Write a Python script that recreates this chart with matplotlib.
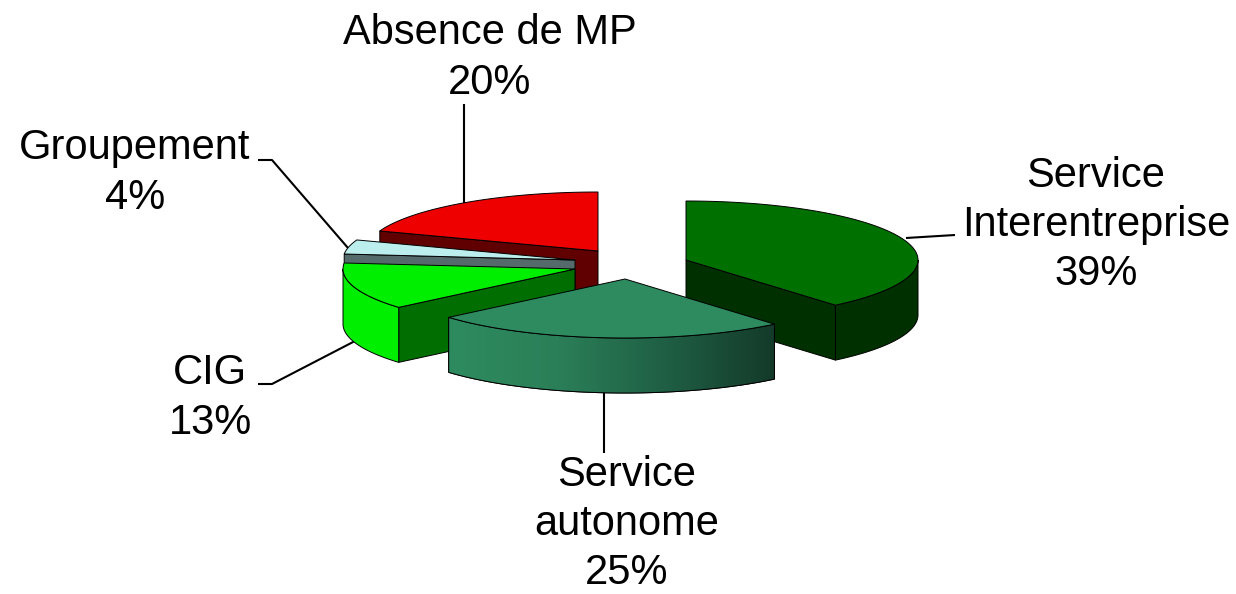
import numpy as np
import matplotlib
matplotlib.use('Agg')
import matplotlib.pyplot as plt
from matplotlib.colors import LinearSegmentedColormap
from matplotlib.patches import Polygon

plt.rcParams['font.family'] = ['Liberation Sans', 'DejaVu Sans']

# shares are a bit off the printed labels because those add up to 101
names = ['Service\nInterentreprise', 'Service\nautonome', 'CIG', 'Groupement', 'Absence de MP']
shares = [38.9, 24.9, 12.9, 3.9, 19.5]
printed = [39, 25, 13, 4, 20]

top_colors = ['#007000', '#2e8b5f', '#00ee00', '#bdeeee', '#ee0000']
radial_colors = ['#003000', '#143a2a', '#006e00', '#556b6b', '#600000']
outer_colors = ['#003000', None, '#00ee00', '#556b6b', '#600000']

apex_x = [686, 625, 575, 575, 598]
apex_y = [260, 279, 269, 260, 251]
label_xy = [(1096, 225), (627, 524), (210, 398), (135, 173), (490, 58)]
leaders = [
    [(906, 238), (955, 235)],
    [(604, 392), (604, 453)],
    [(355, 341), (272, 384), (258, 384)],
    [(348, 248), (272, 160), (258, 160)],
    [(464, 203), (464, 104)],
]

rx, ry, depth = 232, 59, 55

fig = plt.figure(figsize=(12.36, 5.94), dpi=100)
ax = fig.add_axes([0, 0, 1, 1])
ax.axis('off')

edges = np.concatenate([[0], np.cumsum(shares)]) / sum(shares) * 360


def rim(cx, cy, a, b):
    t = np.radians(np.linspace(a, b, 80))
    return np.column_stack([cx + rx * np.sin(t), cy - ry * np.cos(t)])


def shape(pts, color, z):
    p = Polygon(pts, closed=True, fc=color, ec='black', lw=0.7, zorder=z)
    ax.add_patch(p)
    return p


for line in leaders:
    xs, ys = zip(*line)
    ax.plot(xs, ys, color='black', lw=1.5, zorder=1, solid_capstyle='butt')

# back to front, same order as the original stacks them
order = [4, 3, 2, 0, 1]
for k, i in enumerate(order):
    z = 2 + k
    a, b = edges[i], edges[i + 1]
    cx, cy = apex_x[i], apex_y[i]
    drop = np.array([0, depth])

    # only the cut faces turned towards the viewer
    visible = []
    if np.sin(np.radians(a)) < -1e-6:
        visible.append(a)
    if np.sin(np.radians(b)) > 1e-6:
        visible.append(b)
    for ang in visible:
        corner = rim(cx, cy, ang, ang)[0]
        shape([(cx, cy), corner, corner + drop, (cx, cy + depth)], radial_colors[i], z)

    lo, hi = max(a, 90), min(b, 270)
    if lo < hi:
        arc = rim(cx, cy, lo, hi)
        wall = np.vstack([arc, (arc + drop)[::-1]])
        if outer_colors[i] is None:
            # the one slice with a shaded wall
            patch = shape(wall, 'none', z)
            cmap = LinearSegmentedColormap.from_list('wall', ['#2e8b5f', '#2b7f58', '#1f5f44', '#143a2a'])
            im = ax.imshow(np.linspace(0, 1, 256)[None, :], cmap=cmap, aspect='auto', zorder=z,
                           extent=(wall[:, 0].min(), wall[:, 0].max(), wall[:, 1].max(), wall[:, 1].min()))
            im.set_clip_path(patch)
            shape(wall, 'none', z)
        else:
            shape(wall, outer_colors[i], z)

    shape(np.vstack([[(cx, cy)], rim(cx, cy, a, b)]), top_colors[i], z)

for name, pct, (x, y) in zip(names, printed, label_xy):
    ax.text(x, y, f'{name}\n{pct}%', ha='center', va='center', fontsize=30,
            color='black', linespacing=1.3, zorder=10)

ax.set_xlim(0, 1236)
ax.set_ylim(594, 0)

plt.savefig('out.png', dpi=100)
